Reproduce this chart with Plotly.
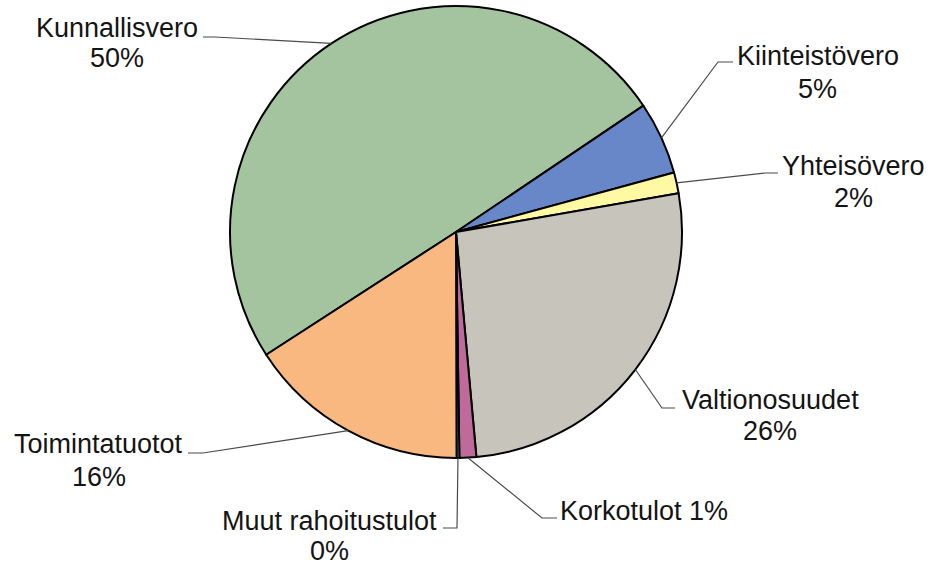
import math
import plotly.graph_objects as go

# ---- data ----
categories = ["Kunnallisvero", "Kiinteistövero", "Yhteisövero", "Valtionosuudet",
              "Korkotulot", "Muut rahoitustulot", "Toimintatuotot"]
values = [49.7, 5.2, 1.5, 26.3, 1.2, 0.2, 15.9]
colors = ["#A3C49F", "#6787C9", "#FFF9A3", "#C7C4BC", "#C06A9C", "#6CC062", "#F8B880"]

# ---- layout constants (pixels) ----
W, H = 933, 566
CX, CY, R = 456, 232, 226
START_ANGLE = 237.1  # clockwise from 12 o'clock, where the first slice begins

# label x centre, y of first line, y of second line (None = single line)
label_pos = [(116.5, 28, 57.5), (817.5, 56, 89), (853.5, 166, 198), (770, 399.5, 431),
             (644, 511, None), (329.5, 521, 551), (98.5, 444, 476.5)]
# leader-line stub (start x, end x, y)
stubs = [(203, 215, 37), (733, 718, 62), (778, 765, 173), (675, 662, 408),
         (557, 542, 518), (443, 457, 528), (188, 203, 453)]
FONT = dict(family="Liberation Sans, Arial, sans-serif", size=27, color="#141414")


def px(x):
    return x / W


def py(y):
    return 1 - y / H


fig = go.Figure(go.Pie(
    labels=categories, values=values, sort=False, direction="clockwise",
    rotation=START_ANGLE - 360,
    marker=dict(colors=colors, line=dict(color="black", width=2)),
    textinfo="none", hoverinfo="label+percent", showlegend=False,
    domain=dict(x=[px(CX - R), px(CX + R)], y=[py(CY + R), py(CY - R)]),
))

total = sum(values)
cum = 0.0
shapes, annotations = [], []
for i, (cat, v) in enumerate(zip(categories, values)):
    mid = START_ANGLE + 360 * (cum + v / 2) / total
    cum += v
    a = math.radians(mid)
    ex, ey = CX + R * math.sin(a), CY - R * math.cos(a)
    sx0, sx1, sy = stubs[i]
    path = f"M {px(sx0)},{py(sy)} L {px(sx1)},{py(sy)} L {px(ex)},{py(ey)}"
    shapes.append(dict(type="path", xref="paper", yref="paper", path=path,
                       line=dict(color="#4a4a4a", width=1.2)))
    pct = f"{int(100 * v / total + 0.5)}%"
    lx, ly1, ly2 = label_pos[i]
    lines = [(f"{cat} {pct}", ly1)] if ly2 is None else [(cat, ly1), (pct, ly2)]
    for txt, ly in lines:
        annotations.append(dict(x=px(lx), y=py(ly), xref="paper", yref="paper",
                                text=txt, showarrow=False, font=FONT,
                                xanchor="center", yanchor="middle", align="center"))

fig.update_layout(width=W, height=H, margin=dict(l=0, r=0, t=0, b=0),
                  paper_bgcolor="white", plot_bgcolor="white",
                  shapes=shapes, annotations=annotations)
fig.write_html("out.html", config={"displayModeBar": False},
               post_script="document.body.style.margin='0';")
